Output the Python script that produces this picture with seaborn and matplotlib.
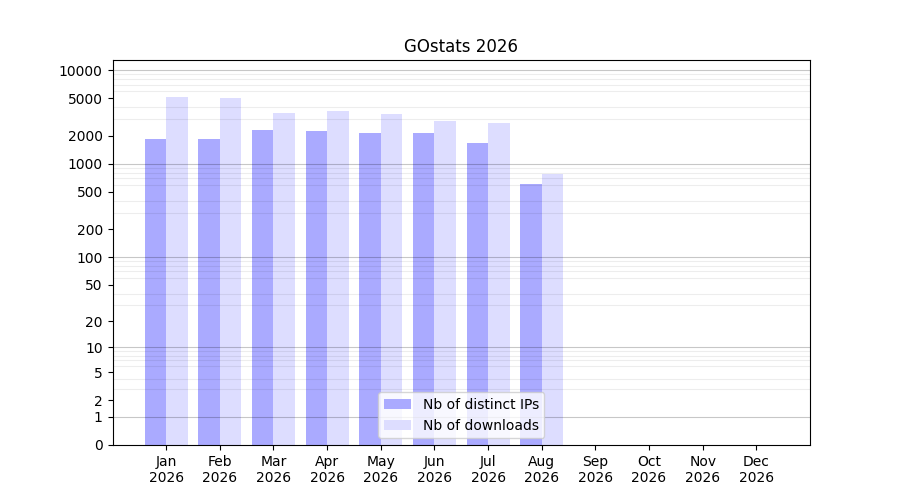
import numpy as np
import pandas as pd
import matplotlib
matplotlib.use("Agg")
import matplotlib.pyplot as plt
import seaborn as sns

# =========================
# DATA
# =========================

months = ["Jan", "Feb", "Mar", "Apr", "May", "Jun",
          "Jul", "Aug", "Sep", "Oct", "Nov", "Dec"]
year = "2026"
distinct_ips = [1840, 1840, 2290, 2230, 2130, 2130, 1665, 607, 0, 0, 0, 0]
downloads = [5150, 5030, 3480, 3650, 3390, 2855, 2720, 777, 0, 0, 0, 0]
y_ticks = [0, 1, 2, 5, 10, 20, 50, 100, 200, 500, 1000, 2000, 5000, 10000]

labels = [m + "\n" + year for m in months]

df = pd.DataFrame({
    "month": labels * 2,
    "value": distinct_ips + downloads,
    "series": ["Nb of distinct IPs"] * 12 + ["Nb of downloads"] * 12,
})

# =========================
# PLOT
# =========================

fig, ax = plt.subplots(figsize=(9, 5), dpi=100)

sns.barplot(
    data=df, x="month", y="value", hue="series",
    order=labels,
    palette=["#aaaaff", "#ddddff"],
    saturation=1, errorbar=None, linewidth=0,
    width=0.8, ax=ax,
)

ax.set_yscale("function", functions=(lambda v: np.log10(np.asarray(v) + 1),
                                     lambda v: 10 ** np.asarray(v) - 1))
ax.set_ylim(0, 10 ** 4.107 - 1)
ax.set_xlim(-1, 12)

ax.yaxis.set_major_locator(matplotlib.ticker.FixedLocator(y_ticks))
ax.yaxis.set_major_formatter(matplotlib.ticker.FixedFormatter([str(t) for t in y_ticks]))

# light lines at 2..9 of each decade, darker ones at the decades
decades = [1, 10, 100, 1000, 10000]
minor = [m * d for d in decades[:-1] for m in range(2, 10)] + [20000]
ax.yaxis.set_minor_locator(matplotlib.ticker.FixedLocator(minor))
ax.tick_params(axis="y", which="minor", length=0)
ax.grid(False)
ax.grid(axis="y", which="minor", color="black", alpha=0.07, linewidth=0.8)
for d in decades:
    ax.axhline(d, color="black", linewidth=0.8, alpha=0.22, zorder=1.5)

ax.set_xlabel("")
ax.set_ylabel("")
ax.set_title("GOstats 2026")
ax.legend(loc="lower center")

plt.savefig("out.png")
